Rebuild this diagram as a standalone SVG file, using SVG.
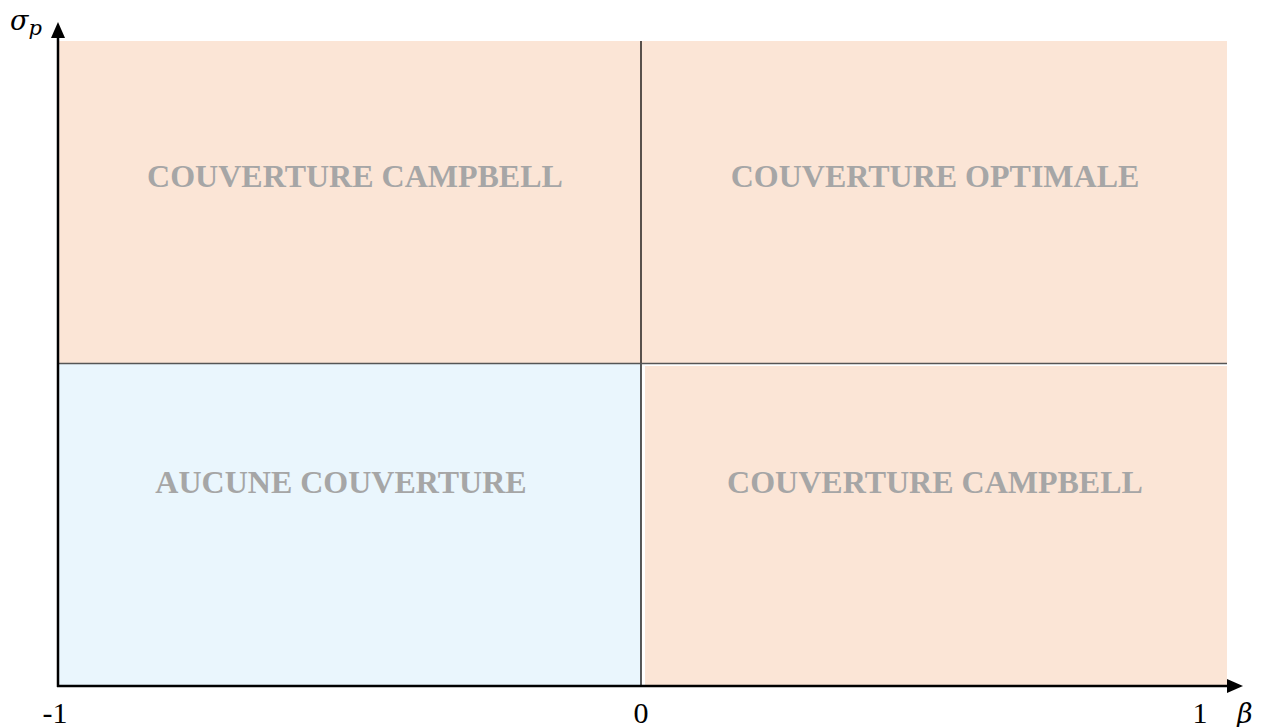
<svg xmlns="http://www.w3.org/2000/svg" width="1265" height="727" viewBox="0 0 1265 727">
<style>
.q{font-family:"Liberation Serif",serif;font-weight:bold;font-size:32px;fill:#A6A6A6;text-anchor:middle}
.l{font-family:"Liberation Serif",serif;font-size:30px;fill:#000;text-anchor:middle}
.m{font-family:"DejaVu Serif","Liberation Serif",serif;font-style:italic;fill:#000}
</style>
<rect width="1265" height="727" fill="#fff"/>
<g id="q-top-left"><rect x="58" y="41" width="583" height="322" fill="#FBE5D6"/><text class="q" x="355" y="187">COUVERTURE CAMPBELL</text></g>
<g id="q-top-right"><rect x="641" y="41" width="586" height="322" fill="#FBE5D6"/><text class="q" x="935" y="187">COUVERTURE OPTIMALE</text></g>
<g id="q-bottom-left"><rect x="58" y="364" width="583" height="322" fill="#EAF6FD"/><text class="q" x="341" y="493">AUCUNE COUVERTURE</text></g>
<g id="q-bottom-right"><rect x="645" y="366" width="582" height="320" fill="#FBE5D6"/><text class="q" x="935" y="493">COUVERTURE CAMPBELL</text></g>
<g id="connectors">
<line x1="641" y1="41" x2="641" y2="686" stroke="#000" stroke-width="1.3"/>
<line x1="58" y1="363.5" x2="1227" y2="363.5" stroke="#555" stroke-width="1.6"/>
<line x1="58" y1="687" x2="58" y2="37" stroke="#000" stroke-width="2.5"/>
<path d="M51,38 L58,22 L65,38 z" fill="#000"/>
<line x1="57" y1="686" x2="1228" y2="686" stroke="#000" stroke-width="2.5"/>
<path d="M1227,679 L1243,686 L1227,693 z" fill="#000"/>
</g>
<g id="labels">
<text class="l" x="55" y="723">-1</text>
<text class="l" x="641" y="723">0</text>
<text class="l" x="1200" y="723">1</text>
<text class="m" x="1237" y="723" font-size="27">β</text>
<text class="m" x="10" y="30" font-size="27">σ<tspan font-size="21" dy="5">p</tspan></text>
</g>
</svg>
